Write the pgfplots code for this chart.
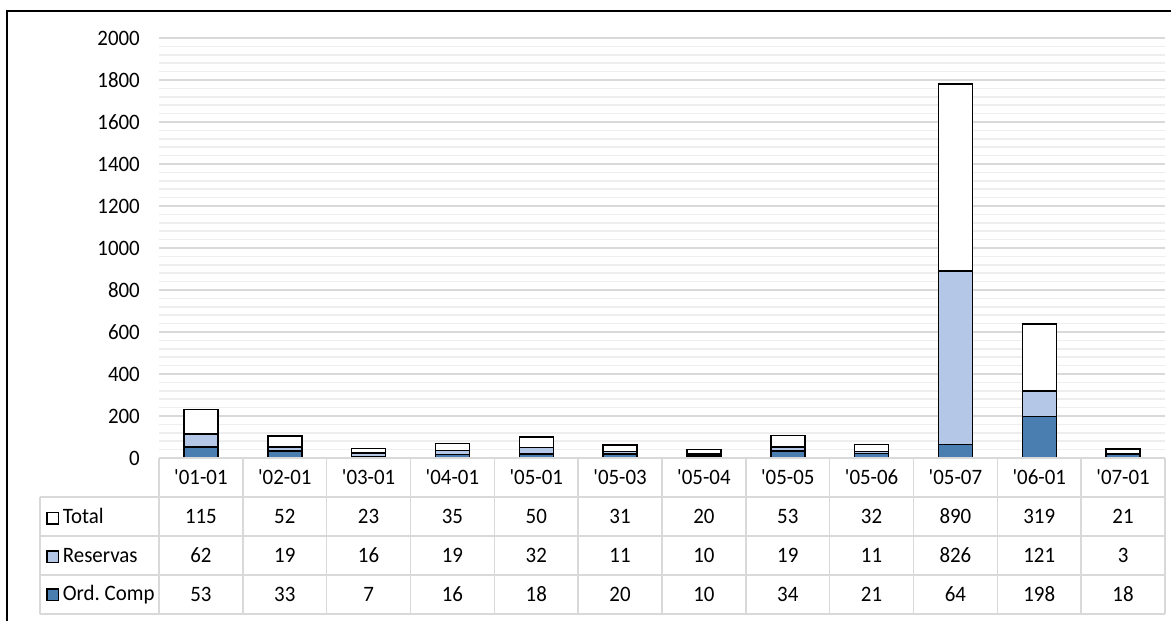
\documentclass[border=0pt]{standalone}
\usepackage{fontspec}
\setmainfont{Carlito}[Ligatures=TeXOff, FakeStretch=0.95]
\usepackage{pgfplots}
\usepackage{pgfplotstable}
\pgfplotsset{compat=1.18}
\definecolor{ordc}{HTML}{4A7EB0}
\definecolor{resc}{HTML}{B4C7E7}
\definecolor{gmaj}{HTML}{D9D9D9}
\definecolor{gmin}{HTML}{EEEEEE}
\definecolor{tline}{HTML}{D9D9D9}
\newcommand{\fnt}{\fontsize{22}{26}\selectfont}
\newcommand{\legsq}[1]{{\setlength{\fboxsep}{0pt}\setlength{\fboxrule}{1.5pt}\raisebox{0.5pt}{\fcolorbox{black}{#1}{\rule{0pt}{10pt}\rule{10pt}{0pt}}}}}

\pgfplotstableread{
x cat ord res tot
0 '01-01 53 62 115
1 '02-01 33 19 52
2 '03-01 7 16 23
3 '04-01 16 19 35
4 '05-01 18 32 50
5 '05-03 20 11 31
6 '05-04 10 10 20
7 '05-05 34 19 53
8 '05-06 21 11 32
9 '05-07 64 826 890
10 '06-01 198 121 319
11 '07-01 18 3 21
}\data

\begin{document}
\begin{tikzpicture}
\useasboundingbox (0pt,-621pt) rectangle (1171pt,0pt);
\fill[white] (0pt,-621pt) rectangle (1171pt,0pt);

% main stacked bar chart
\begin{axis}[
  at={(159pt,-458pt)}, anchor=south west,
  scale only axis, width=1006pt, height=420pt,
  ybar stacked, bar width=34pt,
  xmin=-0.5, xmax=11.5, ymin=0, ymax=2000,
  ytick={0,200,...,2000}, minor y tick num=4,
  ymajorgrids, yminorgrids,
  major grid style={gmaj, line width=1.5pt},
  minor grid style={gmin, line width=1.5pt},
  axis line style={draw=none},
  xtick=\empty,
  major tick length=0pt, minor tick length=0pt,
  yticklabel style={anchor=east, inner sep=0pt, xshift=-19pt, font=\fnt, text=black},
  /pgf/number format/assume math mode=true,
  /pgf/number format/1000 sep={},
]
\addplot[fill=ordc, draw=black, line width=1.5pt] table[x=x,y=ord]{\data};
\addplot[fill=resc, draw=black, line width=1.5pt] table[x=x,y=res]{\data};
\addplot[fill=white, draw=black, line width=1.5pt] table[x=x,y=tot]{\data};
\end{axis}

% data table
\begin{axis}[
  at={(40pt,-614pt)}, anchor=south west,
  scale only axis, width=1125pt, height=156pt,
  xmin=-1.9196, xmax=11.5, ymin=0, ymax=4,
  axis line style={draw=none},
  xtick={-0.5,0.5,...,11.5}, ytick={0,1,2,3},
  xticklabels={}, yticklabels={},
  major tick length=0pt,
  xmajorgrids, ymajorgrids,
  grid style={tline, line width=1.5pt},
  clip=false,
  nodes near coords, point meta=explicit symbolic,
  every node near coord/.append style={anchor=center, font=\fnt, text=black},
]
\draw[tline, line width=1.5pt] (axis cs:-0.5,4) -- (axis cs:11.5,4);
\draw[tline, line width=1.5pt] (axis cs:-1.9196,0) -- (axis cs:-1.9196,3);
\addplot[draw=none, mark=none] table[x=x, y expr=3.5, meta=cat]{\data};
\addplot[draw=none, mark=none] table[x=x, y expr=2.5, meta=tot]{\data};
\addplot[draw=none, mark=none] table[x=x, y expr=1.5, meta=res]{\data};
\addplot[draw=none, mark=none] table[x=x, y expr=0.5, meta=ord]{\data};
\node[anchor=west, font=\fnt, inner sep=0pt] at (axis cs:-1.9196,2.5) {\hspace{6pt}\legsq{white}\,Total};
\node[anchor=west, font=\fnt, inner sep=0pt] at (axis cs:-1.9196,1.5) {\hspace{6pt}\legsq{resc}\,Reservas};
\node[anchor=west, font=\fnt, inner sep=0pt] at (axis cs:-1.9196,0.5) {\hspace{6pt}\legsq{ordc}\,Ord.\ Comp};
\end{axis}

\draw[line width=2pt] (7pt,-630pt) -- (7pt,-11pt) -- (1180pt,-11pt);
\end{tikzpicture}
\end{document}
